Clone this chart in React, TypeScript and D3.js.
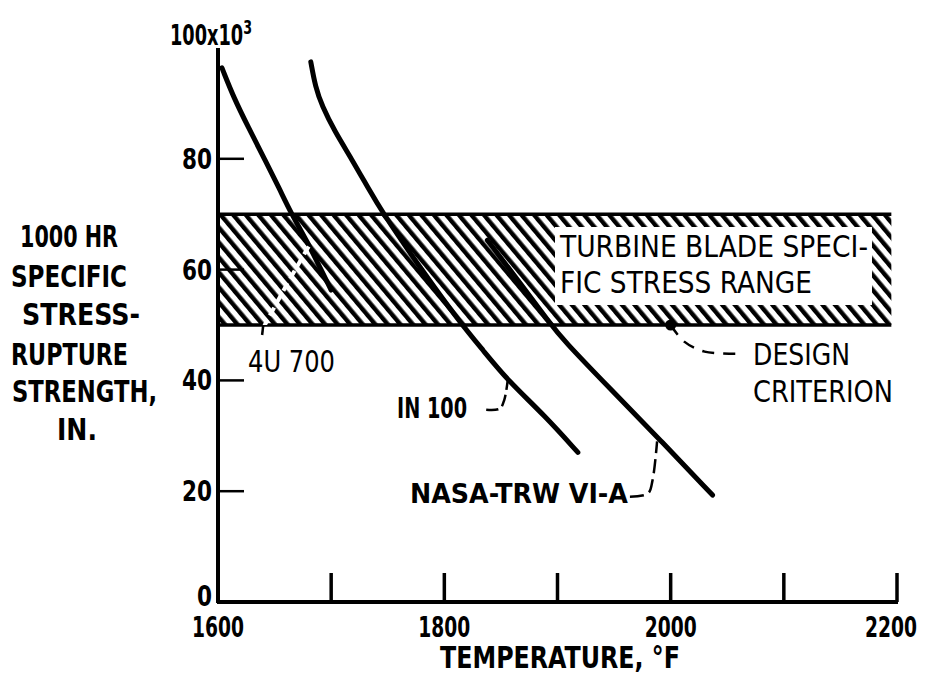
import React from "react";
import * as d3 from "d3";

const W = 925;
const H = 677;

// x ticks (°F) and labels
const xTicks = [1700, 1800, 1900, 2000, 2100, 2200];
const xLabels = [1600, 1800, 2000, 2200];
const yTicks = [20, 40, 60, 80];
const yLabels = [0, 20, 40, 60, 80];

// curves: [temperature °F, specific strength (x10^3 in.)]
const u700: [number, number][] = [
  [1603.5, 96.4], [1614, 91], [1627, 85.6], [1641, 80], [1655, 74.3],
  [1664, 70.4], [1679, 65], [1691, 60], [1700, 56.3],
];
const in100: [number, number][] = [
  [1682, 97.5], [1686, 93], [1692, 89.5], [1703, 85], [1718, 80],
  [1733, 74.6], [1745, 70.4], [1778, 60.5], [1814, 50.4], [1834, 45.5],
  [1856, 40], [1889, 33.6], [1918, 27],
];
const nasaTrw: [number, number][] = [
  [1838, 65.3], [1867, 57.6], [1893, 50.4], [1905, 47.3], [1946, 38.6],
  [1991, 29.2], [2037, 19.3],
];

// specific stress range band
const bandLow = 50;
const bandHigh = 70;
const bandEnd = 2195;
const designPoint: [number, number] = [2000, 50];

// leader lines (data coords)
const leaderU700: [number, number][] = [[1640, 49.5], [1660, 57], [1681, 64.5]];
const leaderIn100: [number, number][] = [[1837, 34.7], [1849, 34.9], [1853, 36.5], [1856, 40]];
const leaderNasa: [number, number][] = [[1964, 19], [1980, 19.6], [1984, 22], [1988, 29]];
const leaderDesign: [number, number][] = [[2000, 50], [2012, 47], [2030, 45.2], [2060, 44.8]];

const FONT = "'DejaVu Sans Condensed', 'DejaVu Sans', sans-serif";

export default function App() {
  const x = d3.scaleLinear().domain([1600, 2200]).range([218, 897]);
  const y = d3.scaleLinear().domain([0, 100]).range([602, 48]);

  const line = d3
    .line<[number, number]>()
    .x((d) => x(d[0]))
    .y((d) => y(d[1]))
    .curve(d3.curveBasis);
  const lineC = d3
    .line<[number, number]>()
    .x((d) => x(d[0]))
    .y((d) => y(d[1]))
    .curve(d3.curveCatmullRom);

  const x0 = x(1600);
  const yTop = y(bandHigh);
  const yBot = y(bandLow);

  const T = (props: any) => (
    <text
      fontFamily={FONT}
      fontStretch="condensed"
      lengthAdjust="spacingAndGlyphs"
      fill="#000"
      {...props}
    />
  );

  return (
    <svg width={W} height={H} style={{ position: "absolute", left: 0, top: 0, background: "#fff" }}>
      <defs>
        <pattern
          id="hatch"
          patternUnits="userSpaceOnUse"
          width={9.6}
          height={10}
          patternTransform="rotate(-40)"
        >
          <rect width={9.6} height={10} fill="#fff" />
          <rect x={0} y={0} width={4.4} height={10} fill="#000" />
        </pattern>
        <clipPath id="bandClip">
          <rect x={x0} y={yTop} width={x(bandEnd) - x0} height={yBot - yTop} />
        </clipPath>
      </defs>
      <rect width={W} height={H} fill="#fff" />

      {/* hatched band */}
      <rect x={x0} y={yTop} width={x(bandEnd) - x0} height={yBot - yTop} fill="url(#hatch)" />
      <rect x={555} y={227} width={317} height={78} fill="#fff" />
      <line x1={x0} x2={x(bandEnd)} y1={yTop} y2={yTop} stroke="#000" strokeWidth={3.5} />
      <line x1={x0} x2={x(bandEnd)} y1={yBot} y2={yBot} stroke="#000" strokeWidth={3.5} />

      {/* curves */}
      <path d={line(u700) || ""} fill="none" stroke="#000" strokeWidth={5} strokeLinecap="round" />
      <path d={line(in100) || ""} fill="none" stroke="#000" strokeWidth={5} strokeLinecap="round" />
      <path d={line(nasaTrw) || ""} fill="none" stroke="#000" strokeWidth={5} strokeLinecap="round" />

      {/* leaders */}
      <g clipPath="url(#bandClip)">
        <path d={lineC(leaderU700) || ""} fill="none" stroke="#fff" strokeWidth={4} strokeDasharray="9 5" />
      </g>
      <line x1={x(1640)} x2={x(1639)} y1={yBot} y2={yBot + 10} stroke="#000" strokeWidth={2.5} />
      <path d={lineC(leaderIn100) || ""} fill="none" stroke="#000" strokeWidth={2.5} strokeDasharray="12 5" />
      <path d={lineC(leaderNasa) || ""} fill="none" stroke="#000" strokeWidth={2.5} strokeDasharray="14 6" />
      <path d={lineC(leaderDesign) || ""} fill="none" stroke="#000" strokeWidth={2.5} strokeDasharray="12 9" />
      <circle cx={x(designPoint[0])} cy={y(designPoint[1])} r={5.5} fill="#000" />

      {/* axes */}
      <line x1={x0} x2={x0} y1={y(100)} y2={y(0) + 1} stroke="#000" strokeWidth={4} />
      <line x1={x0 - 1} x2={x(2200) + 1} y1={y(0)} y2={y(0)} stroke="#000" strokeWidth={4} />
      {yTicks.map((t) => (
        <line key={t} x1={x0} x2={x0 + 26} y1={y(t)} y2={y(t)} stroke="#000" strokeWidth={2.5} />
      ))}
      {xTicks.map((t) => (
        <line key={t} x1={x(t)} x2={x(t)} y1={y(0)} y2={y(0) - 29} stroke="#000" strokeWidth={3.5} />
      ))}

      {/* tick labels */}
      {yLabels.map((t) => (
        <T
          key={t}
          x={212}
          y={t === 0 ? 606 : y(t) + 10}
          textAnchor="end"
          fontSize={28}
          fontWeight="bold"
          textLength={t === 0 ? 15 : 30}
        >
          {t}
        </T>
      ))}
      {xLabels.map((t) => (
        <T
          key={t}
          x={Math.min(x(t), 891)}
          y={637}
          textAnchor="middle"
          fontSize={28}
          fontWeight="bold"
          textLength={52}
        >
          {t}
        </T>
      ))}
      <T x={170} y={45} fontSize={28} fontWeight="bold" textLength={82}>
        100x10<tspan dy={-11} fontSize={20}>3</tspan>
      </T>

      {/* axis titles */}
      <T x={440} y={668} fontSize={30} fontWeight="bold" textLength={240}>
        TEMPERATURE, °F
      </T>
      <T x={20} y={247} fontSize={30} fontWeight="bold" textLength={98}>1000 HR</T>
      <T x={11} y={287} fontSize={30} fontWeight="bold" textLength={116}>SPECIFIC</T>
      <T x={22} y={325} fontSize={30} fontWeight="bold" textLength={118}>STRESS-</T>
      <T x={11} y={365} fontSize={30} fontWeight="bold" textLength={117}>RUPTURE</T>
      <T x={12} y={402} fontSize={30} fontWeight="bold" textLength={145}>STRENGTH,</T>
      <T x={57} y={440} fontSize={30} fontWeight="bold" textLength={40}>IN.</T>

      {/* annotations */}
      <T x={560} y={257} fontSize={31} textLength={308}>TURBINE BLADE SPECI-</T>
      <T x={560} y={293} fontSize={31} textLength={252}>FIC STRESS RANGE</T>
      <T x={753} y={365} fontSize={30} textLength={97}>DESIGN</T>
      <T x={753} y={402} fontSize={30} textLength={140}>CRITERION</T>
      <T x={248} y={372} fontSize={30} textLength={87}>4U 700</T>
      <T x={397} y={418} fontSize={28} fontWeight="bold" textLength={70}>IN 100</T>
      <T x={410} y={503} fontSize={27} fontWeight="bold" textLength={218}>NASA-TRW VI-A</T>
    </svg>
  );
}
